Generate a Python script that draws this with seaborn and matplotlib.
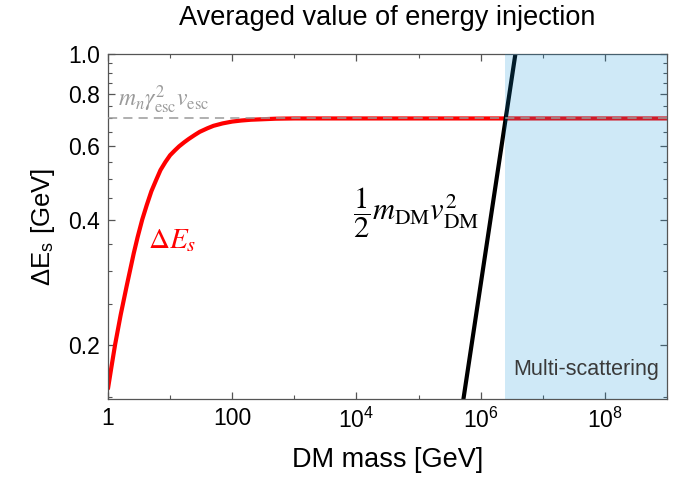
import numpy as np
import seaborn as sns
import matplotlib.pyplot as plt
from matplotlib.ticker import FixedLocator, FixedFormatter, NullFormatter

# values
mass = [1.0, 1.13, 1.3, 1.6, 2.0, 2.6, 3.0, 3.56, 4.2, 5.0, 6.0, 7.0, 8.4, 10,
        12, 14, 17, 20, 25, 30, 40, 50, 70, 100, 140, 200, 500, 1e3, 1e5, 1e7, 1e9]
dE = [0.157, 0.176, 0.200, 0.236, 0.277, 0.332, 0.363, 0.400, 0.433, 0.468,
      0.499, 0.526, 0.550, 0.571, 0.587, 0.600, 0.614, 0.625, 0.639, 0.650,
      0.663, 0.672, 0.681, 0.688, 0.692, 0.695, 0.699, 0.700, 0.700, 0.700, 0.700]

mass_kin = [5.0e5, 4.0e6]
E_kin = [0.14, 1.1]

plateau = 0.70
multi_start, multi_end = 2.5e6, 1e9

xticks = [1, 100, 1e4, 1e6, 1e8]
xticklabels = ['1', '100', r'$\mathregular{10^{4}}$', r'$\mathregular{10^{6}}$', r'$\mathregular{10^{8}}$']
xminor = [10, 1e3, 1e5, 1e7, 1e9]
yticks = [0.2, 0.4, 0.6, 0.8, 1.0]
yminor = [0.15, 0.25, 0.3, 0.35, 0.45, 0.5, 0.55, 0.65, 0.7, 0.75, 0.85, 0.9, 0.95]

sns.set_style('ticks', {'text.color': 'black', 'axes.labelcolor': 'black',
                        'xtick.color': 'black', 'ytick.color': 'black'})
plt.rcParams['font.family'] = ['Liberation Sans', 'DejaVu Sans']
plt.rcParams['mathtext.fontset'] = 'stix'

fig = plt.figure(figsize=(6.75, 4.78), dpi=100)
ax = fig.add_axes([0.160, 0.165, 0.828, 0.722])

sns.lineplot(x=mass, y=dE, color='red', lw=3, ax=ax, sort=False, zorder=2)
sns.lineplot(x=mass_kin, y=E_kin, color='black', lw=3, ax=ax, sort=False, zorder=2)
ax.axhline(plateau, color='#9a9a9a', lw=1.1, ls=(0, (6, 4)), zorder=4)
ax.axvspan(multi_start, multi_end, color='#0f91d7', alpha=0.2, lw=0, zorder=3)

ax.set_xscale('log')
ax.set_yscale('log')
ax.set_xlim(1, 1e9)
ax.set_ylim(0.148, 1.0)

ax.xaxis.set_major_locator(FixedLocator(xticks))
ax.xaxis.set_major_formatter(FixedFormatter(xticklabels))
ax.xaxis.set_minor_locator(FixedLocator(xminor))
ax.xaxis.set_minor_formatter(NullFormatter())
ax.yaxis.set_major_locator(FixedLocator(yticks))
ax.yaxis.set_major_formatter(FixedFormatter(['%.1f' % v for v in yticks]))
ax.yaxis.set_minor_locator(FixedLocator(yminor))
ax.yaxis.set_minor_formatter(NullFormatter())

ax.tick_params(which='both', direction='in', top=True, right=True, color='#555555',
               labelcolor='black')
ax.tick_params(which='major', length=5, width=0.9, labelsize=16.5, pad=6)
ax.tick_params(which='minor', length=3, width=0.8)
for s in ax.spines.values():
    s.set_color('#555555')
    s.set_linewidth(0.9)

ax.set_title('Averaged value of energy injection', fontsize=19.5, pad=21, color='black')
ax.set_xlabel('DM mass [GeV]', fontsize=19.5, labelpad=10)
ax.set_ylabel(r'ΔE$_{\mathregular{s}}$ [GeV]', fontsize=18.5, labelpad=8)

ax.text(1.45, 0.775, r'$m_n\gamma^2_{\rm esc}v_{\rm esc}$', color='#9a9a9a',
        fontsize=17, ha='left', va='center', zorder=5)
ax.text(4.4, 0.357, r'$\Delta E_s$', color='red', fontsize=21, ha='left', va='center', zorder=5)
ax.text(8.9e3, 0.415, r'$\dfrac{1}{2}m_{\rm DM}v^2_{\rm DM}$', color='black',
        fontsize=22, ha='left', va='center', zorder=5)
ax.text(3.3e6, 0.174, 'Multi-scattering', color='#3a3a3a', fontsize=15.5,
        ha='left', va='center', zorder=5)

fig.savefig('out.png', dpi=100)
